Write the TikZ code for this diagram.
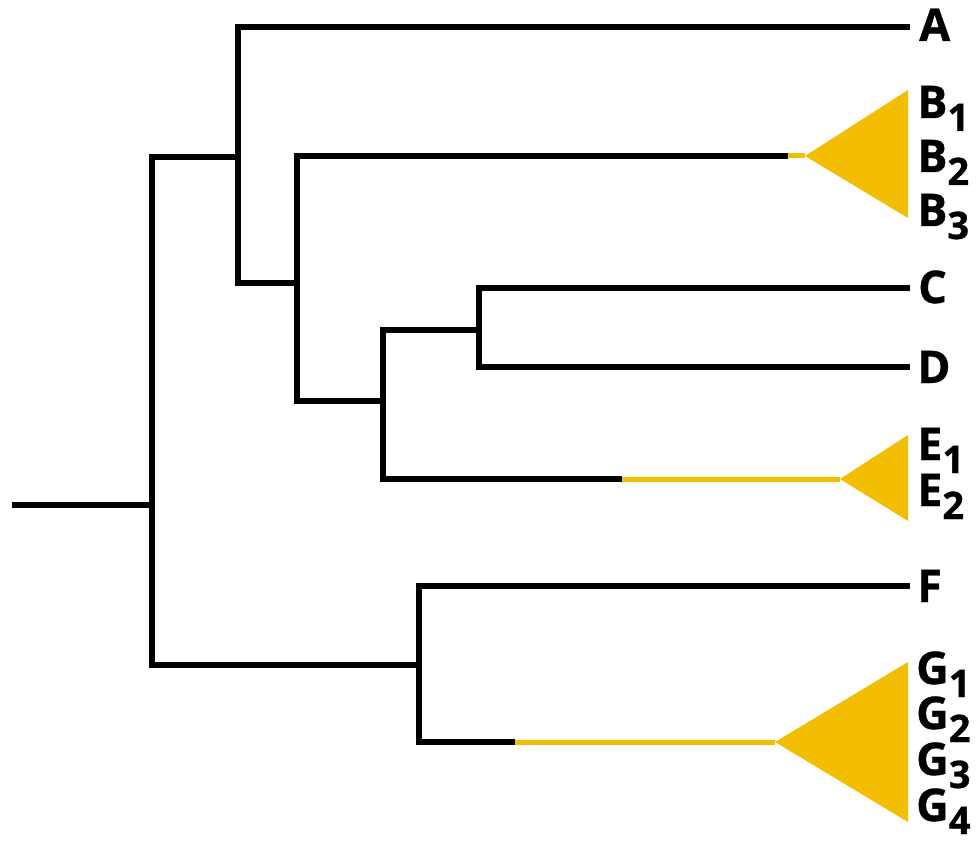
\documentclass[tikz,border=0pt]{standalone}
\usepackage{fontspec}
\setmainfont{Open Sans}[BoldFeatures={FakeBold=0.8}]
\definecolor{cladeyellow}{RGB}{243,190,0}
\newcommand\lsub[1]{\raisebox{-13pt}{\fontsize{38}{38}\selectfont #1}}
\begin{document}
\begin{tikzpicture}[x=1pt,y=-1pt,
  branch/.style={line width=5.2pt,black,line join=miter},
  cladeline/.style={line width=5pt,cladeyellow},
  cladefill/.style={fill=cladeyellow},
  taxon/.style={anchor=base west,inner sep=0pt,font=\fontsize{45}{45}\selectfont\bfseries}]
\useasboundingbox (0,0) rectangle (979,850);

% internal nodes
\coordinate (r0) at (12,505);
\coordinate (r)  at (152,505);
\coordinate (n1) at (238,157);
\coordinate (n2) at (297,283);
\coordinate (n3) at (383,401);
\coordinate (n4) at (479,330);
\coordinate (n5) at (419,665);

% branch tips
\coordinate (tA) at (910,27);
\coordinate (bB) at (788,156);
\coordinate (tB) at (805,156);
\coordinate (tC) at (910,288);
\coordinate (tD) at (910,367);
\coordinate (bE) at (622,479);
\coordinate (tE) at (840,479);
\coordinate (tF) at (910,586);
\coordinate (bG) at (515,742);
\coordinate (tG) at (775,742);

% collapsed clades
\fill[cladefill] (tB) -- (908,90) -- (908,218) -- cycle;
\fill[cladefill] (tE) -- (908,435) -- (908,521) -- cycle;
\fill[cladefill] (tG) -- (908,662) -- (908,822) -- cycle;
\draw[cladeline] (bB) -- (tB);
\draw[cladeline] (bE) -- (tE);
\draw[cladeline] (bG) -- (tG);

% tree
\draw[branch] (r0) -- (r);
\draw[branch] (n1) -| (r) |- (n5);
\draw[branch] (tA) -| (n1) |- (n2);
\draw[branch] (bB) -| (n2) |- (n3);
\draw[branch] (n4) -| (n3) |- (bE);
\draw[branch] (tC) -| (n4) |- (tD);
\draw[branch] (tF) -| (n5) |- (bG);

% taxon labels
\node[taxon] (lA)  at (919,41)  {A};
\node[taxon] (lB1) at (917,118) {B\lsub{1}};
\node[taxon] (lB2) at (917,172) {B\lsub{2}};
\node[taxon] (lB3) at (917,226) {B\lsub{3}};
\node[taxon] (lC)  at (918,303) {C};
\node[taxon] (lD)  at (917,383) {D};
\node[taxon] (lE1) at (917,460) {E\lsub{1}};
\node[taxon] (lE2) at (917,506) {E\lsub{2}};
\node[taxon] (lF)  at (917,602) {F};
\node[taxon] (lG1) at (916,684) {G\lsub{1}};
\node[taxon] (lG2) at (916,729) {G\lsub{2}};
\node[taxon] (lG3) at (916,775) {G\lsub{3}};
\node[taxon] (lG4) at (916,821) {G\lsub{4}};
\end{tikzpicture}
\end{document}
